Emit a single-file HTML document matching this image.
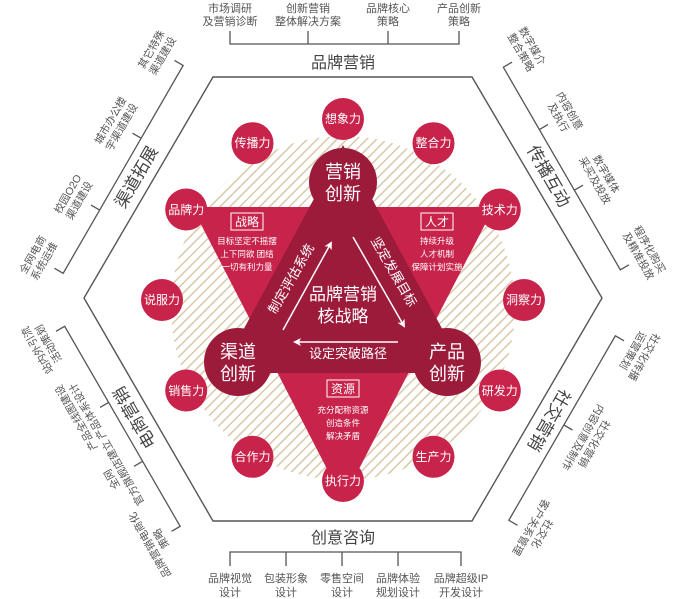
<!DOCTYPE html>
<html><head><meta charset="utf-8"><style>
html,body{margin:0;padding:0;background:#fff;}
svg{display:block;font-family:"Liberation Sans","Noto Sans CJK SC",sans-serif;}
</style></head><body>
<svg width="688" height="599" viewBox="0 0 688 599" xmlns="http://www.w3.org/2000/svg">
<defs>
<pattern id="h" width="7" height="7" patternUnits="userSpaceOnUse" patternTransform="rotate(45)">
<rect x="0" y="0" width="1.5" height="7" fill="#d8c9a8"/>
</pattern>
<marker id="ar" markerWidth="8" markerHeight="8" refX="6" refY="4" orient="auto" markerUnits="userSpaceOnUse">
<path d="M0,0 L8,4 L0,8 L2,4 Z" fill="#fff"/>
</marker>
</defs>

<polygon points="213,77 472,77 602,298 472,521 213,521 84,298" fill="none" stroke="#555" stroke-width="1.4"/>

<g fill="#555" font-size="11" text-anchor="middle">
<text x="230" y="12">市场调研</text><text x="230" y="25">及营销诊断</text>
<text x="308" y="12">创新营销</text><text x="308" y="25">整体解决方案</text>
<text x="388" y="12">品牌核心</text><text x="388" y="25">策略</text>
<text x="459" y="12">产品创新</text><text x="459" y="25">策略</text>
</g>
<path d="M230,31 V44 H459 V31 M308,31 V44 M388,31 V44" fill="none" stroke="#555" stroke-width="1.3"/>
<text x="343" y="68" font-size="16" fill="#444" text-anchor="middle">品牌营销</text>

<text x="343" y="543" font-size="16" fill="#444" text-anchor="middle">创意咨询</text>
<path d="M230,566 V552 H461 V566 M286,552 V566 M342,552 V566 M398,552 V566" fill="none" stroke="#555" stroke-width="1.3"/>
<g fill="#555" font-size="11" text-anchor="middle">
<text x="230" y="582">品牌视觉</text><text x="230" y="596">设计</text>
<text x="286" y="582">包装形象</text><text x="286" y="596">设计</text>
<text x="342" y="582">零售空间</text><text x="342" y="596">设计</text>
<text x="398" y="582">品牌体验</text><text x="398" y="596">规划设计</text>
<text x="461" y="582">品牌超级IP</text><text x="461" y="596">开发设计</text>
</g>

<g transform="translate(148.5,187.5) rotate(-60)">
<path d="M-117,-41 L-117,-31 L123,-31 L123,-41 M39,-31 V-41 M-44,-31 V-41" fill="none" stroke="#555" stroke-width="1.3"/>
<text x="3" y="-10" font-size="17" fill="#444" text-anchor="middle">渠道拓展</text>
<g font-size="10.5" fill="#555" text-anchor="middle">
<text x="121" y="-63">其它特殊</text><text x="121" y="-50">渠道建设</text>
<text x="39" y="-63">城市办公楼</text><text x="39" y="-50">宇渠道建设</text>
<text x="-46" y="-63">校园O2O</text><text x="-46" y="-50">渠道建设</text>
<text x="-116" y="-63">全网电商</text><text x="-116" y="-50">系统运维</text>
</g></g>

<g transform="translate(537,187.5) rotate(60)">
<path d="M-121,-41 L-121,-31 L113,-31 L113,-41 M-49,-31 V-41 M21,-31 V-41" fill="none" stroke="#555" stroke-width="1.3"/>
<text x="-4" y="-10" font-size="17" fill="#444" text-anchor="middle">传播互动</text>
<g font-size="10.5" fill="#555" text-anchor="middle">
<text x="-125" y="-63">数字媒介</text><text x="-125" y="-50">整合策略</text>
<text x="-50" y="-63">内容创意</text><text x="-50" y="-50">及执行</text>
<text x="23" y="-63">数字媒体</text><text x="23" y="-50">采买及投放</text>
<text x="110" y="-63">程序化购买</text><text x="110" y="-50">及精准投放</text>
</g></g>

<g transform="translate(148.5,409.5) rotate(-120)">
<path d="M-117,-41 L-117,-31 L114,-31 L114,-41 M26,-31 V-41 M-42,-31 V-41" fill="none" stroke="#555" stroke-width="1.3"/>
<text x="0" y="-10" font-size="17" fill="#444" text-anchor="middle">电商营销</text>
<g font-size="10.5" fill="#555" text-anchor="middle">
<text x="107" y="-63">站内外引流</text><text x="107" y="-50">活动策划</text>
<text x="29" y="-63">产品全线图建设</text><text x="29" y="-50">产品体系设计</text>
<text x="-42" y="-63">全网</text><text x="-42" y="-50">官方旗舰店建立</text>
<text x="-118" y="-63">品牌营销电商化</text><text x="-118" y="-50">策略</text>
</g></g>

<g transform="translate(537,409.5) rotate(120)">
<path d="M-103,-41 L-103,-31 L110,-31 L110,-41 M0,-31 V-41" fill="none" stroke="#555" stroke-width="1.3"/>
<text x="3" y="-10" font-size="17" fill="#444" text-anchor="middle">社交营销</text>
<g font-size="10.5" fill="#555" text-anchor="middle">
<text x="-99" y="-63">社交化传播</text><text x="-99" y="-50">运营策划</text>
<text x="1" y="-63">社交化营销</text><text x="1" y="-50">内容创意及制作</text>
<text x="105" y="-63">社交化</text><text x="105" y="-50">客户关系管理</text>
</g></g>

<circle cx="343" cy="308" r="172" fill="url(#h)"/>

<polygon points="192,207 494,207 343,500" fill="#c8234b"/>
<polygon points="343,145 220,373 466,373" fill="#9c1b3b"/>

<g fill="#9c1b3b">
<circle cx="343" cy="182" r="34"/>
<circle cx="238" cy="362" r="34"/>
<circle cx="447" cy="362" r="34"/>
</g>
<g fill="#fff" font-size="18" text-anchor="middle">
<text x="343" y="178">营销</text><text x="343" y="200">创新</text>
<text x="238" y="358">渠道</text><text x="238" y="380">创新</text>
<text x="447" y="358">产品</text><text x="447" y="380">创新</text>
</g>

<g fill="#fff" text-anchor="middle">
<text x="343" y="300" font-size="17">品牌营销</text>
<text x="343" y="322" font-size="17">核战略</text>
</g>
<g stroke="#fff" stroke-width="1.5" fill="none">
<line x1="283" y1="330" x2="331" y2="243" marker-end="url(#ar)"/>
<line x1="353" y1="237" x2="404" y2="326" marker-end="url(#ar)"/>
<line x1="398" y1="342" x2="295" y2="342" marker-end="url(#ar)"/>
</g>
<g fill="#fff" font-size="13" text-anchor="middle">
<text transform="translate(295,281) rotate(-60)">制定评估系统</text>
<text transform="translate(390,274) rotate(60)">坚定发展目标</text>
<text x="348" y="358">设定突破路径</text>
</g>

<g fill="none" stroke="#fff" stroke-width="1">
<rect x="231" y="213" width="32" height="17"/>
<rect x="421" y="213" width="32" height="17"/>
<rect x="327" y="380" width="32" height="17"/>
</g>
<g fill="#fff" text-anchor="middle">
<g font-size="12"><text x="247" y="226">战略</text><text x="437" y="226">人才</text><text x="343" y="393">资源</text></g>
<g font-size="8.5">
<text x="247" y="244">目标坚定不摇摆</text><text x="247" y="257">上下同欲 团结</text><text x="247" y="270">一切有利力量</text>
<text x="437" y="244">持续升级</text><text x="437" y="257">人才机制</text><text x="437" y="270">保障计划实施</text>
<text x="343" y="413">充分配称资源</text><text x="343" y="426">创造条件</text><text x="343" y="439">解决矛盾</text>
</g></g>

<g fill="#c8234b">
<circle cx="343" cy="119" r="21"/><circle cx="433.5" cy="143.2" r="21"/><circle cx="499.8" cy="209.5" r="21"/>
<circle cx="524" cy="300" r="21"/><circle cx="499.8" cy="390.5" r="21"/><circle cx="433.5" cy="456.8" r="21"/>
<circle cx="343" cy="481" r="21"/><circle cx="252.5" cy="456.8" r="21"/><circle cx="186.2" cy="390.5" r="21"/>
<circle cx="162" cy="300" r="21"/><circle cx="186.2" cy="209.5" r="21"/><circle cx="252.5" cy="143.2" r="21"/>
</g>
<g fill="#fff" font-size="12" text-anchor="middle">
<text x="343" y="123">想象力</text><text x="433.5" y="147">整合力</text><text x="499.8" y="214">技术力</text>
<text x="524" y="304">洞察力</text><text x="499.8" y="395">研发力</text><text x="433.5" y="461">生产力</text>
<text x="343" y="485">执行力</text><text x="252.5" y="461">合作力</text><text x="186.2" y="395">销售力</text>
<text x="162" y="304">说服力</text><text x="186.2" y="214">品牌力</text><text x="252.5" y="147">传播力</text>
</g>
</svg>
</body></html>
